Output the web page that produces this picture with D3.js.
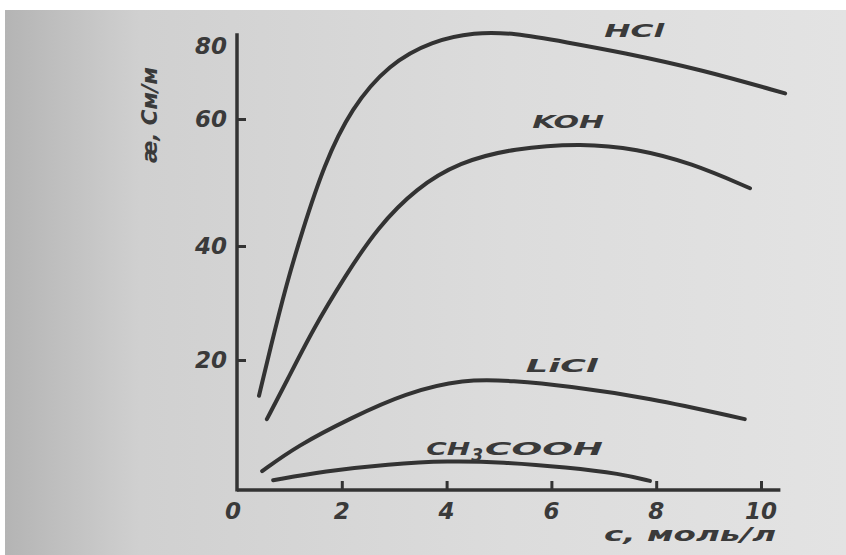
<!DOCTYPE html>
<html lang="ru">
<head>
<meta charset="utf-8">
<title>Электропроводность растворов</title>
<script src="https://d3js.org/d3.v7.min.js"></script>
<style>
    html, body { margin: 0; padding: 0; background: #fff; }
    svg { display: block; }
    text {
        font-family: "DejaVu Sans", sans-serif;
        font-style: italic;
        font-weight: bold;
        fill: #3a3a3a;
    }
    .curve { fill: none; stroke: #333; stroke-width: 4; stroke-linecap: round; }
    .axis path, .axis line { stroke: #333; stroke-width: 3; }
</style>
</head>
<body>
<svg id="chart" width="846" height="555"></svg>
<script>
// concentration, mol/l  vs  conductivity
const hclC   = [0.42, 0.63, 0.94, 1.24, 1.66, 2.18, 2.90, 3.72, 4.54, 5.27, 6.30, 7.33, 8.87, 10.46];
const hclK   = [14.5, 21.8, 33.2, 42.2, 52.8, 63.0, 75.1, 81.4, 83.8, 83.6, 81.0, 78.3, 73.5, 67.0];
const kohC   = [0.57, 0.94, 1.45, 2.06, 2.69, 3.42, 4.24, 5.27, 6.60, 7.63, 8.66, 9.79];
const kohK   = [10.9, 16.6, 25.4, 34.7, 43.0, 49.1, 53.2, 55.4, 56.2, 55.3, 53.1, 49.1];
const liclC  = [0.48, 1.15, 2.18, 3.21, 4.33, 5.27, 6.30, 7.84, 9.69];
const liclK  = [2.9, 6.8, 11.1, 14.9, 17.1, 16.8, 16.0, 14.2, 10.9];
const aceticC = [0.69, 1.66, 2.90, 4.03, 5.06, 6.30, 7.33, 7.88];
const aceticK = [1.5, 2.9, 4.0, 4.5, 4.3, 3.5, 2.5, 1.4];

const xTicks = [0, 2, 4, 6, 8, 10];
const yTicks = [20, 40, 60, 80];
// the printed scale is not evenly spaced, so the y scale is piecewise
const yKnots = [0, 20, 40, 60, 80];

const series = [
    {name: "HCl", c: hclC, k: hclK, lx: 7.58, ly: 82.5, len: 60},
    {name: "KOH", c: kohC, k: kohK, lx: 6.32, ly: 58.6, len: 72},
    {name: "LiCl", c: liclC, k: liclK, lx: 6.2, ly: 18.2, len: 72},
    {name: "CH3COOH", c: aceticC, k: aceticK, lx: 5.31, ly: 5.4, len: 178}
];

const svg = d3.select('#chart');
const W = 846, H = 555;

// scanned paper background
const defs = svg.append('defs');
const grad = defs.append('linearGradient').attr('id', 'paper')
    .attr('x1', 0).attr('x2', 1).attr('y1', 0).attr('y2', 0);
grad.append('stop').attr('offset', '0%').attr('stop-color', '#b4b4b4');
grad.append('stop').attr('offset', '16%').attr('stop-color', '#d0d0d0');
grad.append('stop').attr('offset', '60%').attr('stop-color', '#dcdcdc');
grad.append('stop').attr('offset', '100%').attr('stop-color', '#e3e3e3');
svg.append('rect').attr('x', 5).attr('y', 10).attr('width', W - 5).attr('height', H - 10)
    .attr('fill', 'url(#paper)');

const x = d3.scaleLinear().domain([0, 10]).range([237, 761]);
const y = d3.scaleLinear().domain(yKnots).range([490, 360, 246, 119, 46]);

// axes (ticks point inward)
svg.append('g').attr('class', 'axis')
    .attr('transform', `translate(0,${y(0)})`)
    .call(d3.axisBottom(x).tickValues(xTicks.slice(1)).tickSize(-9).tickFormat(''))
    .call(g => g.select('.domain').remove());
svg.append('g').attr('class', 'axis')
    .attr('transform', `translate(${x(0)},0)`)
    .call(d3.axisLeft(y).tickValues(yTicks.slice(0, 3)).tickSize(-9).tickFormat(''))
    .call(g => g.select('.domain').remove());

svg.append('line').attr('stroke', '#333').attr('stroke-width', 3.5)
    .attr('x1', x(0)).attr('x2', x(0)).attr('y1', y(83.5)).attr('y2', y(0) + 1.5);
svg.append('line').attr('stroke', '#333').attr('stroke-width', 3.5)
    .attr('x1', x(0)).attr('x2', x(10.37)).attr('y1', y(0)).attr('y2', y(0));

// tick labels
svg.append('g').selectAll('text').data(xTicks).join('text')
    .attr('x', d => x(d) - (d === 0 ? 4 : 0))
    .attr('y', y(0) + 29)
    .attr('text-anchor', 'middle')
    .style('font-size', '23px')
    .text(d => d);
svg.append('g').selectAll('text').data(yTicks).join('text')
    .attr('x', x(0) - 10)
    .attr('y', d => y(d) + 8)
    .attr('text-anchor', 'end')
    .style('font-size', '23px')
    .text(d => d);

// axis titles
svg.append('text')
    .attr('transform', `translate(157,115) rotate(-90)`)
    .attr('text-anchor', 'middle')
    .attr('textLength', 96).attr('lengthAdjust', 'spacingAndGlyphs')
    .style('font-size', '21px')
    .text('æ, См/м');
svg.append('text')
    .attr('x', 604).attr('y', 541)
    .attr('textLength', 172).attr('lengthAdjust', 'spacingAndGlyphs')
    .style('font-size', '20px')
    .text('c, моль/л');

// curves
const line = d3.line()
    .x(d => x(d[0])).y(d => y(d[1]))
    .curve(d3.curveBasis);

svg.append('g').selectAll('path').data(series).join('path')
    .attr('class', 'curve')
    .attr('d', s => line(s.c.map((c, i) => [c, s.k[i]])));

// curve labels
svg.append('g').selectAll('text').data(series).join('text')
    .attr('x', s => x(s.lx) - s.len / 2)
    .attr('y', s => y(s.ly))
    .style('font-size', '18px')
    .each(function (s) {
        const t = d3.select(this);
        if (s.name === 'CH3COOH') {
            t.append('tspan').attr('textLength', 44).attr('lengthAdjust', 'spacingAndGlyphs').text('CH');
            t.append('tspan').attr('dy', 6).attr('dx', 1).style('font-size', '17px').text('3');
            t.append('tspan').attr('dy', -6).attr('dx', 2)
                .attr('textLength', 118).attr('lengthAdjust', 'spacingAndGlyphs').text('COOH');
        } else {
            t.attr('textLength', s.len).attr('lengthAdjust', 'spacingAndGlyphs').text(s.name);
        }
    });
</script>
</body>
</html>
